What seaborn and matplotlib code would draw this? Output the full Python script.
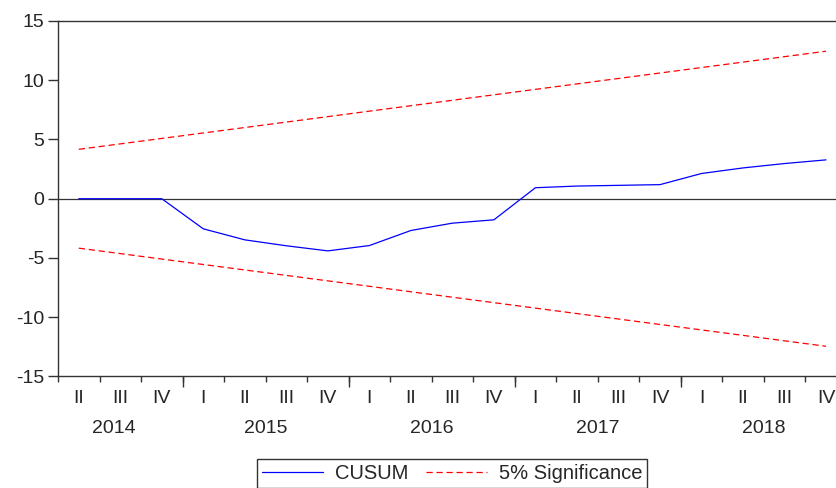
import pandas as pd
import seaborn as sns
import matplotlib.pyplot as plt


quarters = ["II", "III", "IV",
            "I", "II", "III", "IV",
            "I", "II", "III", "IV",
            "I", "II", "III", "IV",
            "I", "II", "III", "IV"]
years = ["2014", "2015", "2016", "2017", "2018"]
year_pos = [0.85, 4.5, 8.5, 12.5, 16.5]

cusum = [0.0, 0.0, 0.0, -2.54, -3.47, -3.97, -4.40, -3.95, -2.68, -2.06, -1.78,
         0.93, 1.07, 1.13, 1.19, 2.13, 2.60, 2.97, 3.28]
upper = [4.17, 4.63, 5.09, 5.55, 6.01, 6.47, 6.93, 7.39, 7.85, 8.31, 8.77,
         9.23, 9.69, 10.15, 10.61, 11.07, 11.53, 11.99, 12.45]
lower = [-4.17, -4.63, -5.09, -5.55, -6.01, -6.47, -6.93, -7.39, -7.85, -8.31, -8.77,
         -9.23, -9.69, -10.15, -10.61, -11.07, -11.53, -11.99, -12.45]

df = pd.DataFrame({"t": range(len(quarters)), "cusum": cusum,
                   "upper": upper, "lower": lower})

sns.set_style("ticks")
plt.rcParams["font.family"] = ["Liberation Sans", "DejaVu Sans"]
plt.rcParams["font.size"] = 14
plt.rcParams["axes.unicode_minus"] = False

fig = plt.figure(figsize=(8.36, 4.88), dpi=100)
ax = fig.add_axes([0.0694, 0.2285, 0.9306, 0.7285])

sns.lineplot(data=df, x="t", y="cusum", ax=ax, color="#0000ff", lw=0.9, label="CUSUM")
sns.lineplot(data=df, x="t", y="upper", ax=ax, color="#ff0000", lw=0.9,
             dashes=(5, 3), label="5% Significance")
sns.lineplot(data=df, x="t", y="lower", ax=ax, color="#ff0000", lw=0.9,
             dashes=(5, 3), label="_nolegend_")
ax.axhline(0, color="#333333", lw=0.9, zorder=0)

ax.set_yticks([-15, -10, -5, 0, 5, 10, 15])
ax.set_xlabel("")
ax.set_ylabel("")

# quarter labels at centres, short ticks at quarter boundaries
ax.set_xticks(range(len(quarters)))
ax.set_xticklabels(quarters)
ax.set_xticks([i - 0.5 for i in range(len(quarters))], minor=True)
ax.tick_params(axis="x", which="major", length=0, pad=9.5, labelsize=14)
ax.tick_params(axis="x", which="minor", length=4, width=1, color="#333333")
ax.tick_params(axis="y", length=7, width=1, color="#333333", pad=3, labelsize=14)

# longer ticks at year boundaries
sec = ax.secondary_xaxis("bottom")
sec.set_xticks([2.5, 6.5, 10.5, 14.5])
sec.set_xticklabels([])
sec.tick_params(length=8, width=1, color="#333333")
sec.spines["bottom"].set_visible(False)

# year labels
sec2 = ax.secondary_xaxis("bottom")
sec2.set_xticks(year_pos)
sec2.set_xticklabels(years)
sec2.tick_params(length=0, pad=31, labelsize=14)
sec2.spines["bottom"].set_visible(False)

ax.set_xlim(-0.5, 18.24)
ax.set_ylim(-15, 15)

for side in ["left", "bottom", "top"]:
    ax.spines[side].set_visible(True)
    ax.spines[side].set_color("#333333")
    ax.spines[side].set_linewidth(1.0)
ax.spines["right"].set_visible(False)

handles, labels = ax.get_legend_handles_labels()
ax.get_legend().remove()
leg = fig.legend(handles, labels, loc="upper center", bbox_to_anchor=(0.541, 0.0594),
                 ncol=2, frameon=True, fancybox=False, edgecolor="black",
                 handlelength=3.0, columnspacing=0.9, handletextpad=0.6,
                 borderpad=0.25, borderaxespad=0, fontsize=14.5)
leg.get_frame().set_linewidth(1.0)

fig.savefig("out.png", dpi=100)
